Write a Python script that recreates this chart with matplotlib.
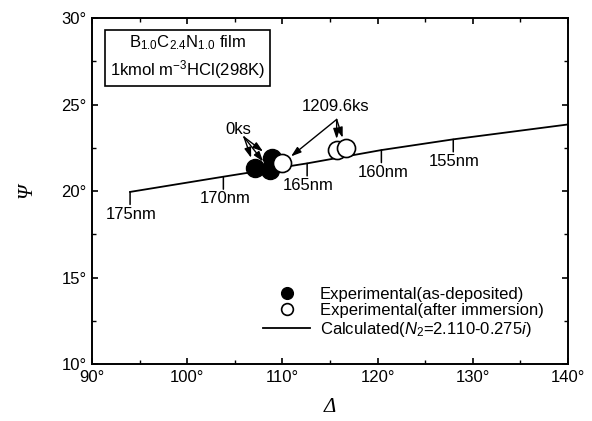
import matplotlib
matplotlib.use('Agg')
import numpy as np
from matplotlib import pyplot as plt

plt.rcParams['font.family'] = ['Liberation Sans', 'DejaVu Sans']
plt.rcParams['mathtext.fontset'] = 'custom'
plt.rcParams['mathtext.rm'] = 'Liberation Sans'
plt.rcParams['mathtext.it'] = 'Liberation Sans:italic'

# curva calculada (N2 = 2.110-0.275i)
calc_delta = [94.0, 103.8, 112.6, 120.4, 127.95, 140.0]
calc_psi = [19.95, 20.83, 21.6, 22.37, 22.99, 23.85]
espessura = ['175nm', '170nm', '165nm', '160nm', '155nm']

# experimental
dep_delta = [107.1, 108.7, 108.9]
dep_psi = [21.31, 21.2, 21.9]
imm_delta = [110.0, 115.7, 116.7]
imm_psi = [21.6, 22.37, 22.47]

x_ticks = [90, 100, 110, 120, 130, 140]
y_ticks = [10, 15, 20, 25, 30]

fig = plt.figure(figsize=(5.92, 4.21), dpi=100)
ax = fig.add_axes([0.1554, 0.1354, 0.804, 0.8216])

ax.plot(calc_delta, calc_psi, color='black', lw=1.3,
        label='Calculated($N_2$=2.110-0.275$i$)', zorder=2)

# marcas de espessura
for i in range(len(espessura)):
    ax.annotate('', xy=(calc_delta[i], calc_psi[i]), xytext=(0, -9),
                textcoords='offset points',
                arrowprops=dict(arrowstyle='-', color='black', lw=1.1,
                                shrinkA=0, shrinkB=0))
    ax.annotate(espessura[i], xy=(calc_delta[i], calc_psi[i]), xytext=(1, -16),
                textcoords='offset points', ha='center', va='center', fontsize=12)

ax.plot(dep_delta, dep_psi, 'o', color='black', mec='black', ms=13,
        label='Experimental(as-deposited)', zorder=3)
ax.plot(imm_delta, imm_psi, 'o', color='white', mec='black', mew=1.2, ms=13,
        label='Experimental(after immersion)', zorder=4)

# setas
ax.text(105.4, 23.58, '0ks', ha='center', va='center', fontsize=12)
for i in range(len(dep_delta)):
    ax.annotate('', xy=(dep_delta[i], dep_psi[i]), xytext=(105.97, 23.12),
                arrowprops=dict(arrowstyle='-|>,head_length=0.6,head_width=0.2',
                                color='black', lw=1.0, shrinkA=0, shrinkB=8),
                zorder=5)
ax.text(115.6, 24.9, '1209.6ks', ha='center', va='center', fontsize=12)
for i in range(len(imm_delta)):
    ax.annotate('', xy=(imm_delta[i], imm_psi[i]), xytext=(115.7, 24.14),
                arrowprops=dict(arrowstyle='-|>,head_length=0.6,head_width=0.2',
                                color='black', lw=1.0, shrinkA=0, shrinkB=8),
                zorder=5)

ax.text(0.2006, 0.886, 'B$_{1.0}$C$_{2.4}$N$_{1.0}$ film\n1kmol m$^{-3}$HCl(298K)',
        transform=ax.transAxes, ha='center', va='center', fontsize=12,
        linespacing=1.35,
        bbox=dict(boxstyle='square,pad=0.3', fc='white', ec='black', lw=1.2))

handles, labels = ax.get_legend_handles_labels()
order = [1, 2, 0]
ax.legend([handles[k] for k in order], [labels[k] for k in order],
          loc='upper left', bbox_to_anchor=(0.36, 0.223), borderaxespad=0,
          borderpad=0, frameon=False,
          fontsize=12, handlelength=2.8, handletextpad=0.6, labelspacing=0.08,
          markerscale=0.65)

ax.set_xlim(90, 140)
ax.set_ylim(10, 30)
ax.set_xticks(x_ticks)
ax.set_xticks(np.arange(90, 141, 5), minor=True)
ax.set_yticks(y_ticks)
ax.set_yticks(np.arange(10, 31, 2.5), minor=True)
ax.set_xticklabels(['%d°' % v for v in x_ticks])
ax.set_yticklabels(['%d°' % v for v in y_ticks])
ax.tick_params(which='both', direction='in', top=True, right=True, labelsize=12)
ax.tick_params(which='major', length=4, width=1.2, pad=4)
ax.tick_params(which='minor', length=3, width=1)
for s in ax.spines.values():
    s.set_linewidth(1.4)

ax.set_xlabel('Δ', fontsize=15, family='Liberation Serif', style='italic', labelpad=10)
ax.set_ylabel('Ψ', fontsize=15, family='Liberation Serif', style='italic', labelpad=18)

fig.savefig('out.png', dpi=100)
